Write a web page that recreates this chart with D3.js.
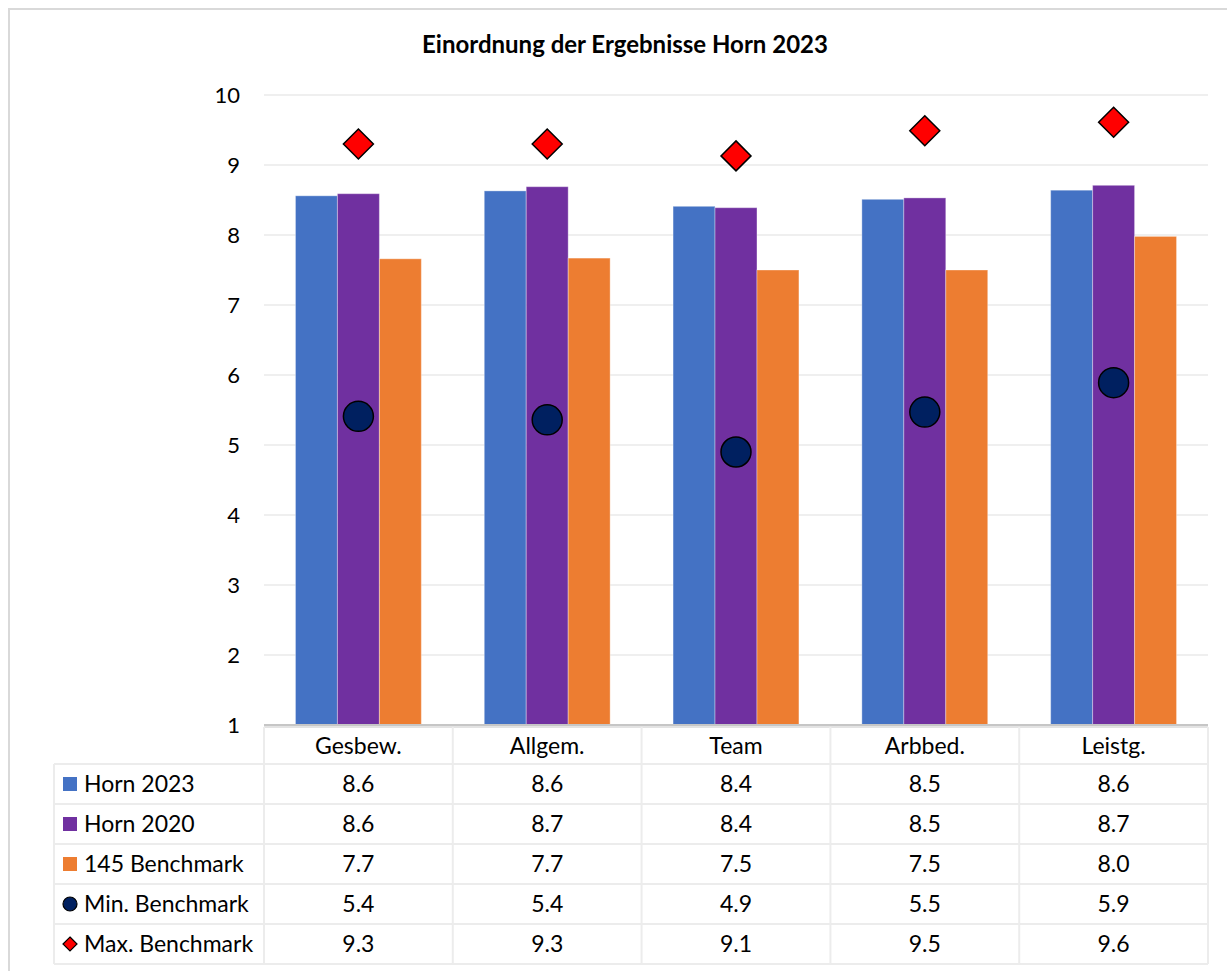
<!DOCTYPE html>
<html><head><meta charset="utf-8">
<script src="https://cdn.jsdelivr.net/npm/d3@7"></script>
<style>
html,body{margin:0;padding:0;background:#fff;}
svg{display:block;font-family:Lato,"Noto Sans",sans-serif;}
</style></head>
<body>
<svg id="chart" width="1227" height="971"></svg>
<script>
const title = "Einordnung der Ergebnisse Horn 2023";
const categories = ["Gesbew.", "Allgem.", "Team", "Arbbed.", "Leistg."];
const horn2023 = [8.56, 8.63, 8.41, 8.51, 8.64];
const horn2020 = [8.59, 8.69, 8.39, 8.53, 8.71];
const bench145 = [7.66, 7.67, 7.50, 7.50, 7.98];
const minBench = [5.41, 5.36, 4.90, 5.47, 5.89];
const maxBench = [9.30, 9.30, 9.13, 9.49, 9.61];
const yTicks = [1, 2, 3, 4, 5, 6, 7, 8, 9, 10];

const barSeries = [
  {name: "Horn 2023", values: horn2023, color: "#4472C4"},
  {name: "Horn 2020", values: horn2020, color: "#7030A0"},
  {name: "145 Benchmark", values: bench145, color: "#ED7D31"}
];
const pointSeries = [
  {name: "Min. Benchmark", values: minBench, color: "#002060", shape: "circle"},
  {name: "Max. Benchmark", values: maxBench, color: "#FF0000", shape: "diamond"}
];
const allSeries = barSeries.map(s => Object.assign({type: "bar"}, s)).concat(pointSeries.map(s => Object.assign({type: "point"}, s)));

(function () {
const svg = d3.select("#chart");
const pLeft = 264, pRight = 1208, pTop = 95, pBottom = 725;
const fontSize = 23, tickFont = 22;

// outer border
svg.append("rect").attr("x", 9).attr("y", 9).attr("width", 1400).attr("height", 1200)
  .attr("fill", "#fff").attr("stroke", "#d9d9d9").attr("stroke-width", 2);

// title
svg.append("text").attr("x", 625).attr("y", 53).attr("text-anchor", "middle")
  .attr("font-size", 24).attr("font-weight", "bold").attr("fill", "#000").text(title);

const y = d3.scaleLinear().domain([1, 10]).range([pBottom, pTop]);
const x0 = d3.scaleBand().domain(categories).range([pLeft, pRight]).padding(0);
const bw = x0.bandwidth();
const x1 = d3.scaleBand().domain(barSeries.map(s => s.name)).range([bw / 6, bw * 5 / 6]).padding(0);

// gridlines
svg.append("g").selectAll("line").data(yTicks.filter(t => t > 1)).join("line")
  .attr("x1", pLeft).attr("x2", pRight).attr("y1", d => y(d)).attr("y2", d => y(d))
  .attr("stroke", "#efefef").attr("stroke-width", 2);

// y axis labels
const yAxis = d3.axisLeft(y).tickValues(yTicks).tickSize(0).tickPadding(24).tickFormat(d3.format("d"));
const ya = svg.append("g").attr("transform", `translate(${pLeft},0)`).call(yAxis);
ya.select(".domain").remove();
ya.selectAll("text").attr("font-size", tickFont).attr("fill", "#000").attr("font-family", "Lato,'Noto Sans',sans-serif");

// bars
barSeries.forEach(s => {
  svg.append("g").selectAll("rect").data(s.values).join("rect")
    .attr("x", (d, i) => x0(categories[i]) + x1(s.name))
    .attr("width", x1.bandwidth())
    .attr("y", d => y(d))
    .attr("height", d => y(1) - y(d))
    .attr("fill", s.color)
    .attr("stroke", "rgba(255,255,255,0.35)").attr("stroke-width", 1);
});

// axis line
svg.append("line").attr("x1", pLeft).attr("x2", pRight).attr("y1", pBottom).attr("y2", pBottom)
  .attr("stroke", "#c6c6c6").attr("stroke-width", 2);

// points
const cx = (i) => x0(categories[i]) + bw / 2;
svg.append("g").selectAll("circle").data(minBench).join("circle")
  .attr("cx", (d, i) => cx(i)).attr("cy", d => y(d)).attr("r", 15)
  .attr("fill", "#002060").attr("stroke", "#000").attr("stroke-width", 1.5);
const diamond = (r) => `M0,${-r}L${r},0L0,${r}L${-r},0Z`;
svg.append("g").selectAll("path").data(maxBench).join("path")
  .attr("transform", (d, i) => `translate(${cx(i)},${y(d)})`)
  .attr("d", diamond(15))
  .attr("fill", "#FF0000").attr("stroke", "#000").attr("stroke-width", 1.5);

// data table
const headTop = 727, headBottom = 764, rowH = 40, legLeft = 54;
const rowTop = (i) => headBottom + i * rowH;
const tableBottom = rowTop(allSeries.length);
const tg = svg.append("g");
const lineColor = "#ececec";
tg.append("line").attr("x1", pLeft).attr("x2", pRight).attr("y1", headTop).attr("y2", headTop).attr("stroke", "#e3e3e3").attr("stroke-width", 2);
d3.range(allSeries.length + 1).forEach(i => {
  tg.append("line").attr("x1", legLeft).attr("x2", pRight).attr("y1", rowTop(i)).attr("y2", rowTop(i))
    .attr("stroke", lineColor).attr("stroke-width", 2);
});
tg.append("line").attr("x1", legLeft).attr("x2", legLeft).attr("y1", headBottom).attr("y2", tableBottom).attr("stroke", lineColor).attr("stroke-width", 2);
categories.concat([null]).forEach((c) => {
  const xx = c === null ? pRight : x0(c);
  tg.append("line").attr("x1", xx).attr("x2", xx).attr("y1", headTop).attr("y2", tableBottom)
    .attr("stroke", lineColor).attr("stroke-width", 2);
});
tg.selectAll("text.head").data(categories).join("text").attr("class", "head")
  .attr("x", d => x0(d) + bw / 2).attr("y", (headTop + headBottom) / 2)
  .attr("dy", "0.36em").attr("text-anchor", "middle").attr("font-size", fontSize).attr("fill", "#000")
  .text(d => d);
const fmt = d3.format(".1f");
allSeries.forEach((s, r) => {
  const cy = rowTop(r) + rowH / 2;
  if (s.type === "bar") {
    tg.append("rect").attr("x", 63).attr("y", cy - 7).attr("width", 14).attr("height", 14).attr("fill", s.color);
  } else if (s.shape === "circle") {
    tg.append("circle").attr("cx", 70).attr("cy", cy).attr("r", 7).attr("fill", s.color).attr("stroke", "#000").attr("stroke-width", 1.2);
  } else {
    tg.append("path").attr("transform", `translate(70,${cy})`).attr("d", diamond(7)).attr("fill", s.color).attr("stroke", "#000").attr("stroke-width", 1.2);
  }
  tg.append("text").attr("x", 84).attr("y", cy).attr("dy", "0.36em").attr("font-size", fontSize).attr("fill", "#000").text(s.name);
  tg.selectAll(null).data(s.values).join("text")
    .attr("x", (d, i) => x0(categories[i]) + bw / 2).attr("y", cy).attr("dy", "0.36em")
    .attr("text-anchor", "middle").attr("font-size", fontSize).attr("fill", "#000")
    .text(d => fmt(d));
});
})();
</script>
</body></html>
